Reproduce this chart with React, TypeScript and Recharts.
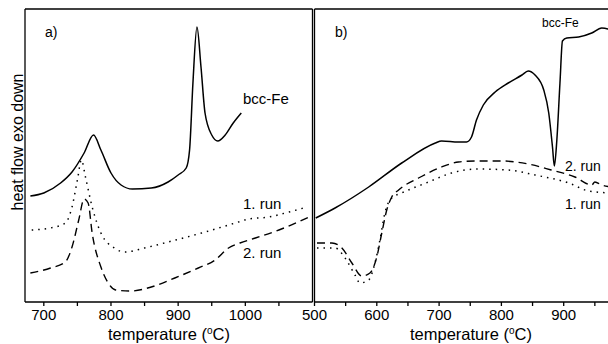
import React from 'react';
import { LineChart, Line, XAxis, YAxis } from 'recharts';

// panel a) – heating to 1100 °C
const aBccT = [680, 700, 725, 742, 760, 774, 785, 800, 815, 832, 860, 885, 900, 912, 917, 922, 928, 934, 940, 950, 959, 970, 982, 994];
const aBccV = [106, 109, 119, 130, 149, 167, 152, 129, 117, 113, 114, 120, 127, 134, 152, 219, 275, 235, 189, 167, 161, 167, 179, 189];
const aRun1T = [682, 710, 732, 742, 750, 756, 762, 772, 785, 805, 820, 850, 885, 935, 985, 1005, 1035, 1065, 1092];
const aRun1V = [72, 74, 79, 95, 122, 142, 125, 95, 69, 54, 50, 54, 60, 69, 79, 83, 85, 90, 95];
const aRun2T = [680, 710, 732, 742, 752, 760, 766, 772, 785, 795, 807, 830, 860, 895, 930, 955, 975, 992, 1015, 1050, 1095];
const aRun2V = [29, 34, 40, 55, 82, 103, 99, 69, 35, 20, 12, 11, 15, 24, 34, 42, 54, 59, 64, 72, 85];

// panel b) – from 500 °C
const bBccT = [502, 533, 587, 640, 694, 704, 731, 744, 752, 760, 771, 790, 811, 833, 843, 854, 868, 876, 882, 885, 889, 894, 898, 905, 924, 945, 961, 971, 978];
const bBccV = [84, 94, 115, 139, 159, 161, 160, 160, 165, 182, 197, 210, 219, 227, 231, 227, 212, 189, 155, 136, 162, 219, 261, 264, 265, 269, 274, 273, 268];
const bRun1T = [504, 533, 549, 565, 573, 587, 597, 605, 613, 624, 640, 683, 720, 763, 811, 854, 908, 940, 976];
const bRun1V = [54, 54, 44, 27, 19, 22, 39, 62, 89, 104, 109, 120, 129, 133, 132, 127, 119, 111, 109];
const bRun2T = [504, 528, 544, 560, 576, 589, 600, 608, 616, 624, 635, 667, 704, 731, 758, 801, 843, 880, 918, 945, 950, 961, 976];
const bRun2V = [59, 59, 54, 39, 26, 29, 45, 69, 92, 105, 112, 124, 135, 140, 141, 141, 138, 132, 125, 117, 120, 117, 115];

const aTicks = [700, 750, 800, 850, 900, 950, 1000, 1050];
const bTicks = [500, 550, 600, 650, 700, 750, 800, 850, 900, 950];

const FONT = '"Liberation Sans", Arial, sans-serif';
const zip = (t: number[], v: number[]) => t.map((x, i) => ({ t: x, v: v[i] }));
const label100 = (v: number) => (v % 100 === 0 ? String(v) : '');

interface PanelProps {
  domain: [number, number];
  ticks: number[];
  bcc: { t: number; v: number }[];
  run1: { t: number; v: number }[];
  run2: { t: number; v: number }[];
  width: number;
  margin: { top: number; right: number; left: number; bottom: number };
}

const Panel: React.FC<PanelProps> = ({ domain, ticks, bcc, run1, run2, width, margin }) => (
  <LineChart width={width} height={344} margin={margin}>
    <XAxis
      dataKey="t"
      type="number"
      domain={domain}
      ticks={ticks}
      tickFormatter={label100}
      allowDataOverflow
      height={30}
      stroke="#000"
      strokeWidth={1.3}
      tickSize={4}
      tickMargin={3}
      interval={0}
      tick={{ fill: '#000', fontSize: 15, fontFamily: FONT }}
    />
    <XAxis xAxisId="top" orientation="top" type="number" domain={domain} height={1} tick={false} tickLine={false} stroke="#000" strokeWidth={1.3} />
    <YAxis type="number" domain={[0, 293]} width={1} tick={false} tickLine={false} stroke="#000" strokeWidth={1.3} allowDataOverflow />
    <YAxis yAxisId="r" orientation="right" type="number" domain={[0, 293]} width={1} tick={false} tickLine={false} stroke="#000" strokeWidth={1.3} />
    <Line data={bcc} dataKey="v" type="monotone" stroke="#000" strokeWidth={1.5} dot={false} isAnimationActive={false} />
    <Line data={run1} dataKey="v" type="monotone" stroke="#000" strokeWidth={1.5} strokeDasharray="1.5 5" dot={false} isAnimationActive={false} />
    <Line data={run2} dataKey="v" type="monotone" stroke="#000" strokeWidth={1.4} strokeDasharray="8 5" dot={false} isAnimationActive={false} />
  </LineChart>
);

const TempTitle: React.FC<{ x: number }> = ({ x }) => (
  <text x={x} y={340} textAnchor="middle" fontSize={16.5} fill="#000">
    temperature (<tspan dy={-6} fontSize={10}>o</tspan>
    <tspan dy={6}>C)</tspan>
  </text>
);

export default function App() {
  return (
    <div style={{ position: 'absolute', left: 0, top: 0, width: 608, height: 344, overflow: 'hidden', background: '#fff', fontFamily: FONT }}>
      <div style={{ position: 'absolute', left: 0, top: 0 }}>
        <Panel
          domain={[672, 1100]}
          ticks={aTicks}
          bcc={zip(aBccT, aBccV)}
          run1={zip(aRun1T, aRun1V)}
          run2={zip(aRun2T, aRun2V)}
          width={314}
          margin={{ top: 8, right: 0.5, left: 24, bottom: 12 }}
        />
      </div>
      <div style={{ position: 'absolute', left: 290, top: 0 }}>
        <Panel
          domain={[500, 1000]}
          ticks={bTicks}
          bcc={zip(bBccT, bBccV)}
          run1={zip(bRun1T, bRun1V)}
          run2={zip(bRun2T, bRun2V)}
          width={343}
          margin={{ top: 8, right: 6, left: 23.5, bottom: 12 }}
        />
      </div>
      <svg width={608} height={344} style={{ position: 'absolute', left: 0, top: 0, pointerEvents: 'none', fontFamily: FONT }}>
        <text transform="translate(23,142) rotate(-90)" textAnchor="middle" fontSize={16} fill="#000">
          heat flow exo down
        </text>
        <TempTitle x={169} />
        <TempTitle x={471} />
        <text x={45} y={37} fontSize={14} fill="#000">a)</text>
        <text x={243} y={104} fontSize={15} fill="#000">bcc-Fe</text>
        <text x={243} y={209} fontSize={15} fill="#000">1. run</text>
        <text x={243} y={258} fontSize={15} fill="#000">2. run</text>
        <text x={335} y={37} fontSize={14} fill="#000">b)</text>
        <text x={542} y={27} fontSize={12} fill="#000">bcc-Fe</text>
        <text x={565} y={171} fontSize={14} fill="#000">2. run</text>
        <text x={565} y={209} fontSize={14} fill="#000">1. run</text>
      </svg>
    </div>
  );
}
